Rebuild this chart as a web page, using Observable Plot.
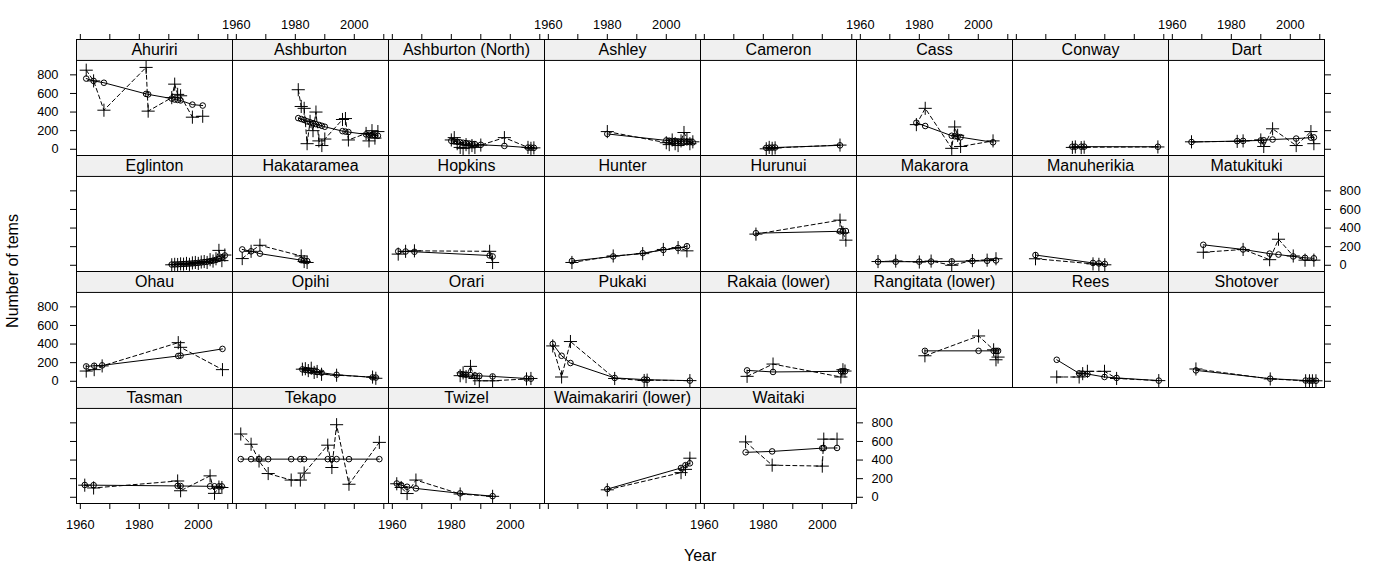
<!DOCTYPE html>
<html><head><meta charset="utf-8">
<script src="https://cdn.jsdelivr.net/npm/d3@7"></script>
<script src="https://cdn.jsdelivr.net/npm/@observablehq/plot@0.6"></script>
<style>
body{margin:0;background:#fff;}
#chart{width:1381px;height:567px;}
</style></head><body><div id="chart"></div>
<script>
// ---------- data ----------
const panelNames = ["Ahuriri","Ashburton","Ashburton (North)","Ashley","Cameron","Cass","Conway","Dart",
  "Eglinton","Hakataramea","Hopkins","Hunter","Hurunui","Makarora","Manuherikia","Matukituki",
  "Ohau","Opihi","Orari","Pukaki","Rakaia (lower)","Rangitata (lower)","Rees","Shotover",
  "Tasman","Tekapo","Twizel","Waimakariri (lower)","Waitaki"];

const ahuririYear = [1962, 1964.5, 1968, 1982.3, 1983, 1991, 1992, 1993, 1994, 1998, 2001.5];
const ahuririFit  = [760, 735, 715, 595, 590, 545, 535, 530, 525, 480, 470];
const ahuririObs  = [850, 735, 420, 880, 410, 555, 700, 590, 575, 345, 355];

const ashburtonYear = [1981, 1982, 1983, 1984, 1985, 1986, 1987, 1988, 1989, 1990, 1996, 1997, 1998, 2004, 2005, 2006, 2007, 2008];
const ashburtonFit  = [335, 325, 315, 300, 290, 280, 270, 262, 252, 242, 195, 190, 185, 160, 156, 152, 148, 145];
const ashburtonObs  = [640, 460, 440, 60, 300, 200, 400, 90, 40, 110, 320, 330, 100, 170, 90, 200, 120, 190];

const ashburtonNYear = [1980, 1981, 1982, 1983, 1984, 1985, 1986, 1987, 1988, 1990, 1998, 2006, 2007, 2008];
const ashburtonNFit  = [90, 85, 80, 75, 70, 66, 62, 58, 55, 48, 36, 18, 17, 16];
const ashburtonNObs  = [100, 125, 60, 20, 10, 50, 15, 40, 20, 45, 125, 20, 10, 15];

const ashleyYear = [1980, 2000, 2001, 2002, 2003, 2004, 2005, 2006, 2007, 2008, 2009];
const ashleyFit  = [165, 95, 92, 90, 88, 85, 82, 80, 78, 76, 74];
const ashleyObs  = [190, 70, 50, 100, 60, 40, 90, 180, 110, 60, 80];

const cameronYear = [1981, 1982, 1983, 1984, 2006];
const cameronFit  = [15, 17, 18, 19, 42];
const cameronObs  = [5, 20, 10, 15, 45];

const cassYear = [1979, 1982, 1991, 1992, 1993, 1994, 2005];
const cassFit  = [285, 250, 145, 140, 135, 130, 75];
const cassObs  = [265, 440, 10, 240, 150, 30, 90];

const conwayYear = [1979, 1980, 1982, 1983, 2008];
const conwayFit  = [28, 28, 28, 28, 27];
const conwayObs  = [20, 25, 18, 22, 25];

const dartYear = [1966.5, 1982, 1984, 1990, 1991, 1994, 2002, 2007, 2008];
const dartFit  = [78, 88, 90, 95, 97, 105, 115, 125, 128];
const dartObs  = [80, 85, 90, 100, 30, 220, 40, 190, 60];

const eglintonYear = [1991, 1992, 1993, 1994, 1995, 1996, 1997, 1998, 1999, 2000, 2001, 2002, 2003, 2004, 2005, 2006, 2007, 2008, 2009];
const eglintonFit  = [8, 9, 10, 12, 14, 16, 18, 20, 23, 26, 30, 34, 38, 44, 50, 58, 68, 85, 105];
const eglintonObs  = [5, 10, 8, 15, 12, 20, 10, 25, 30, 20, 35, 40, 30, 60, 45, 70, 160, 50, 110];

const hakataYear = [1962, 1965, 1968, 1982, 1983, 1984];
const hakataFit  = [170, 150, 125, 55, 50, 45];
const hakataObs  = [72, 150, 215, 100, 40, 30];

const hopkinsYear = [1962, 1964.5, 1967.5, 1993, 1994];
const hopkinsFit  = [150, 148, 145, 105, 95];
const hopkinsObs  = [120, 150, 155, 150, 30];

const hunterYear = [1968, 1982, 1992, 1999, 2004, 2007];
const hunterFit  = [45, 95, 130, 165, 185, 205];
const hunterObs  = [30, 100, 125, 170, 190, 155];

const hurunuiYear = [1977.5, 2006, 2007, 2008];
const hurunuiFit  = [345, 365, 367, 368];
const hurunuiObs  = [335, 485, 350, 270];

const makaroraYear = [1966, 1972, 1980, 1984, 1991, 1998, 2003, 2006];
const makaroraFit  = [38, 38, 39, 40, 42, 45, 48, 52];
const makaroraObs  = [40, 45, 35, 45, 0, 50, 55, 70];

const manuYear = [1966.5, 1986, 1988, 1990];
const manuFit  = [110, 25, 20, 15];
const manuObs  = [70, 15, 10, 5];

const matukiYear = [1970.5, 1984, 1993, 1996, 2001, 2005, 2008];
const matukiFit  = [220, 170, 125, 115, 95, 80, 75];
const matukiObs  = [140, 170, 60, 280, 100, 55, 55];

const ohauYear = [1962, 1964.7, 1967.4, 1993.2, 1994, 2008.2];
const ohauFit  = [160, 167, 171, 272, 276, 348];
const ohauObs  = [110, 125, 165, 415, 365, 125];

const opihiYear = [1982.4, 1983.4, 1984.4, 1985.4, 1986.4, 1987.4, 1988.9, 1994, 2006.2, 2007.3];
const opihiFit  = [128, 122, 117, 112, 106, 100, 92, 70, 42, 40];
const opihiObs  = [130, 135, 115, 140, 95, 105, 75, 65, 45, 32];

const orariYear = [1983, 1984, 1985, 1986.5, 1988, 1989.5, 1994, 2005.5, 2007];
const orariFit  = [80, 75, 70, 66, 62, 58, 52, 30, 28];
const orariObs  = [60, 90, 50, 160, 30, 5, 5, 25, 30];

const pukakiYear = [1961.5, 1964.5, 1967.5, 1982.5, 1992.5, 1993.5, 2008];
const pukakiFit  = [402, 274, 196, 36, 18, 16, 7];
const pukakiObs  = [380, 46, 427, 30, 8, 12, 7];

const rakaiaYear = [1974.5, 1983.3, 2006.3, 2007, 2007.7];
const rakaiaFit  = [117, 100, 107, 107, 107];
const rakaiaObs  = [53, 185, 46, 124, 110];

const rangitataYear = [1981.9, 2000.1, 2005.2, 2006, 2006.7];
const rangitataFit  = [327, 327, 327, 327, 327];
const rangitataObs  = [274, 487, 338, 231, 260];

const reesYear = [1973.7, 1981.3, 1982.5, 1984.1, 1989.9, 1994, 2008.3];
const reesFit  = [231, 85, 82, 78, 46, 36, 7];
const reesObs  = [46, 46, 82, 107, 107, 30, 7];

const shotoverYear = [1968, 1993.2, 2005.2, 2006.5, 2007.5, 2008.7];
const shotoverFit  = [117, 28, 8, 7, 6, 6];
const shotoverObs  = [132, 25, 5, 5, 5, 5];

const tasmanYear = [1961.5, 1964.5, 1993, 1994, 2004, 2005.5, 2007, 2008];
const tasmanFit  = [132, 130, 122, 121, 118, 118, 117, 117];
const tasmanObs  = [130, 100, 175, 70, 230, 42, 110, 105];

const tekapoYear = [1961.5, 1965, 1967.7, 1970.8, 1978.6, 1981.7, 1983, 1991, 1992.4, 1994, 1998.2, 2008.5];
const tekapoFit  = [410, 410, 410, 410, 410, 410, 410, 410, 410, 410, 410, 410];
const tekapoObs  = [680, 570, 390, 255, 185, 185, 260, 560, 320, 780, 140, 590];

const twizelYear = [1961.5, 1963, 1965, 1968, 1983, 1994];
const twizelFit  = [148, 130, 113, 95, 42, 12];
const twizelObs  = [145, 105, 40, 185, 35, 10];

const waimakYear = [1980, 2005, 2006.5, 2008];
const waimakFit  = [88, 315, 345, 365];
const waimakObs  = [80, 265, 300, 420];

const waitakiYear = [1974, 1983, 2000, 2000.5, 2005];
const waitakiFit  = [483, 493, 528, 529, 530];
const waitakiObs  = [595, 345, 335, 625, 625];

const yTicks = [0, 200, 400, 600, 800];
const xTicks = [1960, 1970, 1980, 1990, 2000, 2010];
const xTickLabels = [1960, 1980, 2000];

const panelSeries = [
  [ahuririYear, ahuririFit, ahuririObs], [ashburtonYear, ashburtonFit, ashburtonObs],
  [ashburtonNYear, ashburtonNFit, ashburtonNObs], [ashleyYear, ashleyFit, ashleyObs],
  [cameronYear, cameronFit, cameronObs], [cassYear, cassFit, cassObs],
  [conwayYear, conwayFit, conwayObs], [dartYear, dartFit, dartObs],
  [eglintonYear, eglintonFit, eglintonObs], [hakataYear, hakataFit, hakataObs],
  [hopkinsYear, hopkinsFit, hopkinsObs], [hunterYear, hunterFit, hunterObs],
  [hurunuiYear, hurunuiFit, hurunuiObs], [makaroraYear, makaroraFit, makaroraObs],
  [manuYear, manuFit, manuObs], [matukiYear, matukiFit, matukiObs],
  [ohauYear, ohauFit, ohauObs], [opihiYear, opihiFit, opihiObs],
  [orariYear, orariFit, orariObs], [pukakiYear, pukakiFit, pukakiObs],
  [rakaiaYear, rakaiaFit, rakaiaObs], [rangitataYear, rangitataFit, rangitataObs],
  [reesYear, reesFit, reesObs], [shotoverYear, shotoverFit, shotoverObs],
  [tasmanYear, tasmanFit, tasmanObs], [tekapoYear, tekapoFit, tekapoObs],
  [twizelYear, twizelFit, twizelObs], [waimakYear, waimakFit, waimakObs],
  [waitakiYear, waitakiFit, waitakiObs]
];

// ---------- layout ----------
const COLS = 8;
const W = 1381, H = 567;
const M_LEFT = 74.5, M_RIGHT = 55.3, M_TOP = 38.4, M_BOTTOM = 63.4;
const X_DOMAIN = [1958.7, 2011.6];
const Y_LOW = -67, Y_PANEL_TOP = 955, Y_STRIP_TOP = 1180;
const Y_STRIP_MID = (Y_PANEL_TOP + Y_STRIP_TOP) / 2;

const panels = panelNames.map((name, i) => ({name, col: i % COLS, row: Math.floor(i / COLS)}));
const points = [];
panels.forEach((p, i) => {
  const [yr, fit, obs] = panelSeries[i];
  yr.forEach((year, j) => points.push({...p, year, fit: fit[j], obs: obs[j]}));
});

const lastRow = 3;
const lastRowCols = d3.range(panelNames.length - lastRow * COLS);
const leftLabels = [0, 2].flatMap(row => yTicks.map(v => ({row, col: 0, v})));
const rightLabels = [[1, 7], [3, 4]].flatMap(([row, col]) => yTicks.map(v => ({row, col, v})));
const topLabels = [1, 3, 5, 7].flatMap(col => xTickLabels.map(v => ({row: 0, col, v})));
const bottomLabels = [0, 2, 4].flatMap(col => xTickLabels.map(v => ({row: lastRow, col, v})));
const bottomTicks = lastRowCols.flatMap(col => xTicks.map(v => ({row: lastRow, col, v})));

const F = {fx: "col", fy: "row"};

const chart = Plot.plot({
  width: W, height: H,
  marginLeft: M_LEFT, marginRight: M_RIGHT, marginTop: M_TOP, marginBottom: M_BOTTOM,
  style: {fontFamily: "'Liberation Sans', Arial, sans-serif", fontSize: "12.8px", color: "black", background: "white", overflow: "visible"},
  fx: {domain: d3.range(COLS), padding: 0, axis: null},
  fy: {domain: d3.range(4), padding: 0, axis: null},
  x: {domain: X_DOMAIN},
  y: {domain: [Y_LOW, Y_STRIP_TOP]},
  marks: [
    Plot.rect(panels, {...F, y1: Y_PANEL_TOP, y2: Y_STRIP_TOP, fill: "#f0f0f0"}),
    Plot.ruleY(panels, {...F, y: Y_PANEL_TOP, stroke: "black"}),
    Plot.text(panels, {...F, y: Y_STRIP_MID, text: "name", fontSize: 16}),
    Plot.frame({stroke: "black"}),
    Plot.axisY({anchor: "left", facetAnchor: "left", ticks: yTicks, tickSize: 6, tickFormat: () => "", label: null}),
    Plot.axisY({anchor: "right", facetAnchor: "right-empty", ticks: yTicks, tickSize: 6, tickFormat: () => "", label: null}),
    Plot.axisX({anchor: "top", facetAnchor: "top", ticks: xTicks, tickSize: 6, tickFormat: () => "", label: null}),
    Plot.ruleX(bottomTicks, {...F, x: "v", y1: Y_LOW, y2: Y_LOW, insetBottom: -6, stroke: "black"}),
    Plot.text(leftLabels, {...F, y: "v", text: d => String(d.v), frameAnchor: "left", textAnchor: "end", dx: -18}),
    Plot.text(rightLabels, {...F, y: "v", text: d => String(d.v), frameAnchor: "right", textAnchor: "start", dx: 15}),
    Plot.text(topLabels, {...F, x: "v", text: d => String(d.v), frameAnchor: "top", dy: -20}),
    Plot.text(bottomLabels, {...F, x: "v", text: d => String(d.v), frameAnchor: "bottom", dy: 25}),
    Plot.line(points, {...F, x: "year", y: "obs", stroke: "black", strokeWidth: 1, strokeDasharray: "4,3"}),
    Plot.line(points, {...F, x: "year", y: "fit", stroke: "black", strokeWidth: 1}),
    Plot.dot(points, {...F, x: "year", y: "fit", symbol: "circle", r: 2.8, stroke: "black", fill: "none", strokeWidth: 1}),
    Plot.dot(points, {...F, x: "year", y: "obs", symbol: "plus", r: 4.3, stroke: "black", strokeWidth: 1})
  ]
});

const svg = d3.select(chart);
svg.append("text")
  .attr("transform", `translate(14,${(M_TOP + H - M_BOTTOM) / 2}) rotate(-90)`)
  .attr("text-anchor", "middle").attr("dominant-baseline", "middle")
  .attr("font-size", 16).attr("fill", "black")
  .text("Number of tems");
svg.append("text")
  .attr("x", (M_LEFT + W - M_RIGHT) / 2).attr("y", 557)
  .attr("text-anchor", "middle").attr("dominant-baseline", "middle")
  .attr("font-size", 16).attr("fill", "black")
  .text("Year");

document.getElementById("chart").appendChild(chart);
</script>
</body></html>
